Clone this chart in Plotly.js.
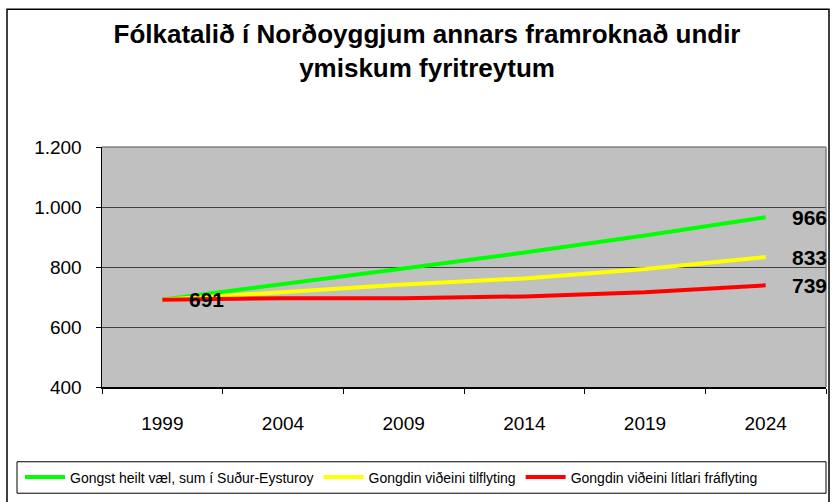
<!DOCTYPE html>
<html>
<head>
<meta charset="utf-8">
<script src="https://cdn.plot.ly/plotly-3.0.1.min.js"></script>
<style>
html,body{margin:0;padding:0;background:#fff;}
#chart{width:834px;height:502px;}
</style>
</head>
<body>
<div id="chart"></div>
<script>
// ---- data ----
const years = ["1999", "2004", "2009", "2014", "2019", "2024"];
const seriesNames = [
  "Gongst heilt væl, sum í Suður-Eysturoy",
  "Gongdin viðeini tilflyting",
  "Gongdin viðeini lítlari fráflyting"
];
const greenValues  = [691, 742, 795, 848, 905, 966];
const yellowValues = [691, 717, 742, 762, 793, 833];
const redValues    = [691, 696, 696, 702, 716, 739];
const yTickVals = [400, 600, 800, 1000, 1200];
const yTickText = ["400", "600", "800", "1.000", "1.200"];
const titleText = "Fólkatalið í Norðoyggjum annars framroknað undir<br>ymiskum fyritreytum";

const FONT = "Liberation Sans, Arial, sans-serif";
const allSeries = [greenValues, yellowValues, redValues];
const colors = ["#00FF00", "#FFFF00", "#FF0000"];

const traces = allSeries.map((vals, i) => ({
  type: "scatter",
  mode: "lines",
  x: years,
  y: vals,
  name: seriesNames[i],
  line: {color: colors[i], width: 4},
  hoverinfo: "skip"
}));

const last = years.length - 1;
const labelFont = {family: FONT, size: 21, color: "#000", weight: "bold"};
// category axis: annotation x given as category index
const annotations = [
  {x: 0, y: redValues[0], text: String(redValues[0]), xanchor: "left", xshift: 25,
   showarrow: false, font: labelFont}
].concat(allSeries.map(vals => ({
  x: last, y: vals[last], text: String(vals[last]), xanchor: "left", xshift: 24,
  showarrow: false, font: labelFont
})));

// geometry helpers (plot area: left 102, right 826, top 147, bottom 391)
const L = 102, R = 826, T = 147, B = 391;
const pw = R - L, ph = B - T;
const px = v => (v - L) / pw;
const py = v => (B - v) / ph;

const layout = {
  width: 834, height: 502,
  margin: {l: L, r: 834 - R, t: T, b: 502 - B, pad: 0},
  paper_bgcolor: "#ffffff",
  plot_bgcolor: "#C0C0C0",
  font: {family: FONT, color: "#000"},
  title: {
    text: titleText,
    font: {family: FONT, size: 26, color: "#000", weight: "bold"},
    xref: "container", yref: "container",
    x: 0.512, xanchor: "center",
    y: 1 - 43 / 502, yanchor: "middle"
  },
  xaxis: {
    type: "category",
    categoryorder: "array", categoryarray: years,
    range: [-0.5, years.length - 0.5],
    tickson: "boundaries",
    ticks: "outside", ticklen: 5, tickcolor: "#000", tickwidth: 1,
    showline: true, linecolor: "#000", linewidth: 1.5,
    showgrid: false, zeroline: false,
    tickfont: {family: FONT, size: 19, color: "#000"},
    ticklabelstandoff: 19,
    fixedrange: true
  },
  yaxis: {
    range: [400, 1200],
    tickvals: yTickVals, ticktext: yTickText,
    ticks: "outside", ticklen: 5, tickcolor: "#000", tickwidth: 1,
    showline: true, linecolor: "#000", linewidth: 1.5,
    showgrid: true, gridcolor: "#404040", gridwidth: 1,
    zeroline: false,
    tickfont: {family: FONT, size: 19, color: "#000"},
    ticklabelstandoff: 10,
    fixedrange: true
  },
  showlegend: true,
  legend: {
    orientation: "h",
    x: px(20), xanchor: "left",
    y: py(483), yanchor: "middle",
    bgcolor: "rgba(0,0,0,0)", borderwidth: 0,
    font: {family: FONT, size: 14, color: "#000"},
    itemwidth: 40, tracegroupgap: 0
  },
  annotations: annotations,
  shapes: [
    // outer chart border
    {type: "rect", xref: "paper", yref: "paper", x0: px(7), x1: px(829), y0: py(510), y1: py(7),
     line: {color: "#000", width: 1.5}, fillcolor: "rgba(0,0,0,0)", layer: "above"},
    // legend box
    {type: "rect", xref: "paper", yref: "paper", x0: px(17), x1: px(826), y0: py(499), y1: py(467),
     line: {color: "#000", width: 1}, fillcolor: "rgba(0,0,0,0)", layer: "above"},
    // plot area top & right border (gray)
    {type: "line", xref: "paper", yref: "paper", x0: 0, x1: 1, y0: 1, y1: 1,
     line: {color: "#808080", width: 1.5}, layer: "above"},
    {type: "line", xref: "paper", yref: "paper", x0: 1, x1: 1, y0: 0, y1: 1,
     line: {color: "#808080", width: 1.5}, layer: "above"}
  ]
};

Plotly.newPlot("chart", traces, layout, {displayModeBar: false, staticPlot: true});
</script>
</body>
</html>
